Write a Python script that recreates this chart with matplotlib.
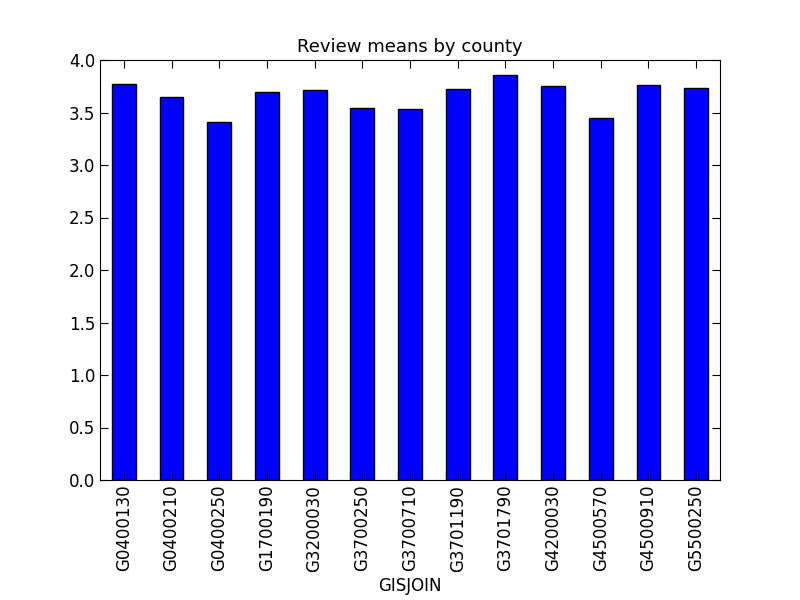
import matplotlib
matplotlib.use('Agg')
import matplotlib.pyplot as plt
import numpy as np

counties = ['G0400130', 'G0400210', 'G0400250', 'G1700190', 'G3200030', 'G3700250',
            'G3700710', 'G3701190', 'G3701790', 'G4200030', 'G4500570', 'G4500910', 'G5500250']
means = [3.77, 3.65, 3.41, 3.70, 3.71, 3.54, 3.53, 3.72, 3.86, 3.75, 3.45, 3.76, 3.73]

plt.rcParams['font.size'] = 12
fig = plt.figure(figsize=(8, 6), dpi=100)
ax = fig.add_axes([0.125, 0.2, 0.775, 0.7])
x = np.arange(len(counties))
ax.bar(x, means, width=0.5, color='blue', edgecolor='black', linewidth=1)
ax.set_xlim(-0.5, len(counties) - 0.5)
ax.set_ylim(0, 4.0)
ax.set_yticks(np.arange(0, 4.01, 0.5))
ax.set_xticks(x)
ax.set_xticklabels(counties, rotation=90)
ax.tick_params(direction='in', top=True, right=True, length=6)
ax.set_xlabel('GISJOIN')
ax.set_title('Review means by county', fontsize=13)
fig.savefig('out.png', dpi=100)
